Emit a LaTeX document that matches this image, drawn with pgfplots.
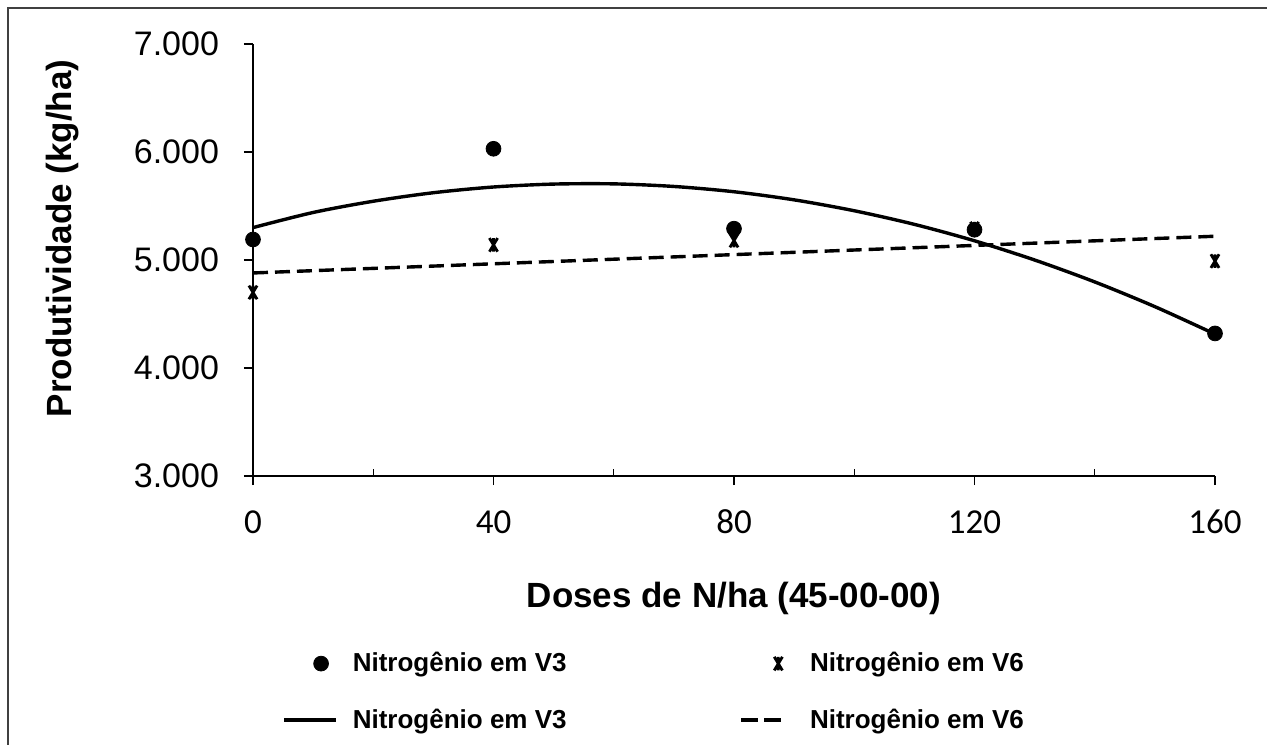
\documentclass[border=0pt]{standalone}
\usepackage{fontspec}
\setmainfont{Liberation Sans}
\newfontfamily\calibri{Carlito}
\usepackage{pgfplots}
\pgfplotsset{compat=1.18}
\definecolor{framegray}{HTML}{404040}

% X with a vertical stroke, as the V6 markers are drawn
\pgfdeclareplotmark{xstar}{%
  \pgfpathmoveto{\pgfqpoint{0pt}{-\pgfplotmarksize}}%
  \pgfpathlineto{\pgfqpoint{0pt}{\pgfplotmarksize}}%
  \pgfpathmoveto{\pgfqpoint{-0.6\pgfplotmarksize}{-\pgfplotmarksize}}%
  \pgfpathlineto{\pgfqpoint{0.6\pgfplotmarksize}{\pgfplotmarksize}}%
  \pgfpathmoveto{\pgfqpoint{0.6\pgfplotmarksize}{-\pgfplotmarksize}}%
  \pgfpathlineto{\pgfqpoint{-0.6\pgfplotmarksize}{\pgfplotmarksize}}%
  \pgfusepathqstroke}

\pgfplotsset{
  markleg/.style={legend image code/.code={%
      \path (0pt,0pt) (26pt,0pt);
      \draw[##1] plot coordinates {(18.5pt,0pt)};}},
  lineleg/.style={legend image code/.code={%
      \draw[##1] (0pt,0pt) -- (26pt,0pt);}},
  dashleg/.style={legend image code/.code={%
      \path (0pt,0pt) (26pt,0pt);
      \draw[##1, dash pattern=on 8.5pt off 3pt] (0pt,0pt) -- (20pt,0pt);}},
}

\begin{document}
\begin{tikzpicture}
\path[use as bounding box] (-126.5pt,-134pt) rectangle (507pt,238pt);
\draw[framegray, line width=1pt] (-122.5pt,-140pt) -- (-122.5pt,234pt) -- (520pt,234pt);

\begin{axis}[
    scale only axis,
    width=481pt, height=216pt,
    xmin=0, xmax=160, ymin=3000, ymax=7000,
    clip=false,
    axis x line*=bottom, axis y line*=left,
    axis line style={line width=0.7pt, black},
    xtick={0,40,80,120,160},
    xticklabels={0,40,80,120,160},
    extra x ticks={20,60,100,140},
    extra x tick labels={},
    extra x tick style={tick align=inside, major tick length=3.5pt},
    ytick={3000,4000,5000,6000,7000},
    yticklabels={3.000,4.000,5.000,6.000,7.000},
    tick align=outside,
    major tick length=4.5pt,
    tick style={line width=0.7pt, black},
    xticklabel style={font=\calibri\fontsize{17.5}{20}\selectfont, anchor=center, yshift=-18.5pt},
    yticklabel style={font=\fontsize{17}{19}\selectfont, anchor=east},
    yticklabel shift=9pt,
    xlabel={\bfseries Doses de N/ha (45-00-00)},
    xlabel style={font=\fontsize{17.5}{20}\selectfont, at={(axis description cs:0.5,0)}, anchor=center, yshift=-61pt},
    ylabel={\bfseries Produtividade (kg/ha)},
    ylabel style={font=\fontsize{17.5}{20}\selectfont, at={(axis description cs:-0.1975,0.55)}, anchor=center},
    legend columns=2,
    legend style={draw=none, fill=none, at={(axis description cs:0,0)}, anchor=north west,
        xshift=11.5pt, yshift=-84pt, row sep=13pt,
        font=\bfseries\fontsize{13}{15}\selectfont,
        /tikz/every odd column/.append style={column sep=5.5pt},
        /tikz/every even column/.append style={column sep=84.5pt}},
    legend cell align=left,
]
\addplot[only marks, mark=*, mark size=3.7pt, black, markleg] coordinates {
    (0,5190) (40,6030) (80,5290) (120,5280) (160,4320)
};
\addlegendentry{Nitrogênio em V3}
\addplot[only marks, mark=xstar, mark size=3.4pt, line width=1.4pt, black, markleg] coordinates {
    (0,4700) (40,5140) (80,5180) (120,5290) (160,4990)
};
\addlegendentry{Nitrogênio em V6}
\addplot[black, line width=1.7pt, smooth, no marks, lineleg] coordinates {
    (0,5300) (10,5440) (20,5544) (30,5623) (40,5676) (50,5703) (60,5705)
    (70,5681) (80,5632) (90,5557) (100,5456) (110,5330) (120,5178)
    (130,5000) (140,4797) (150,4568) (160,4314)
};
\addlegendentry{Nitrogênio em V3}
\addplot[black, line width=1.7pt, dash pattern=on 7.5pt off 3.5pt, no marks, dashleg] coordinates {
    (0,4880) (160,5220)
};
\addlegendentry{Nitrogênio em V6}
\end{axis}
\end{tikzpicture}
\end{document}
